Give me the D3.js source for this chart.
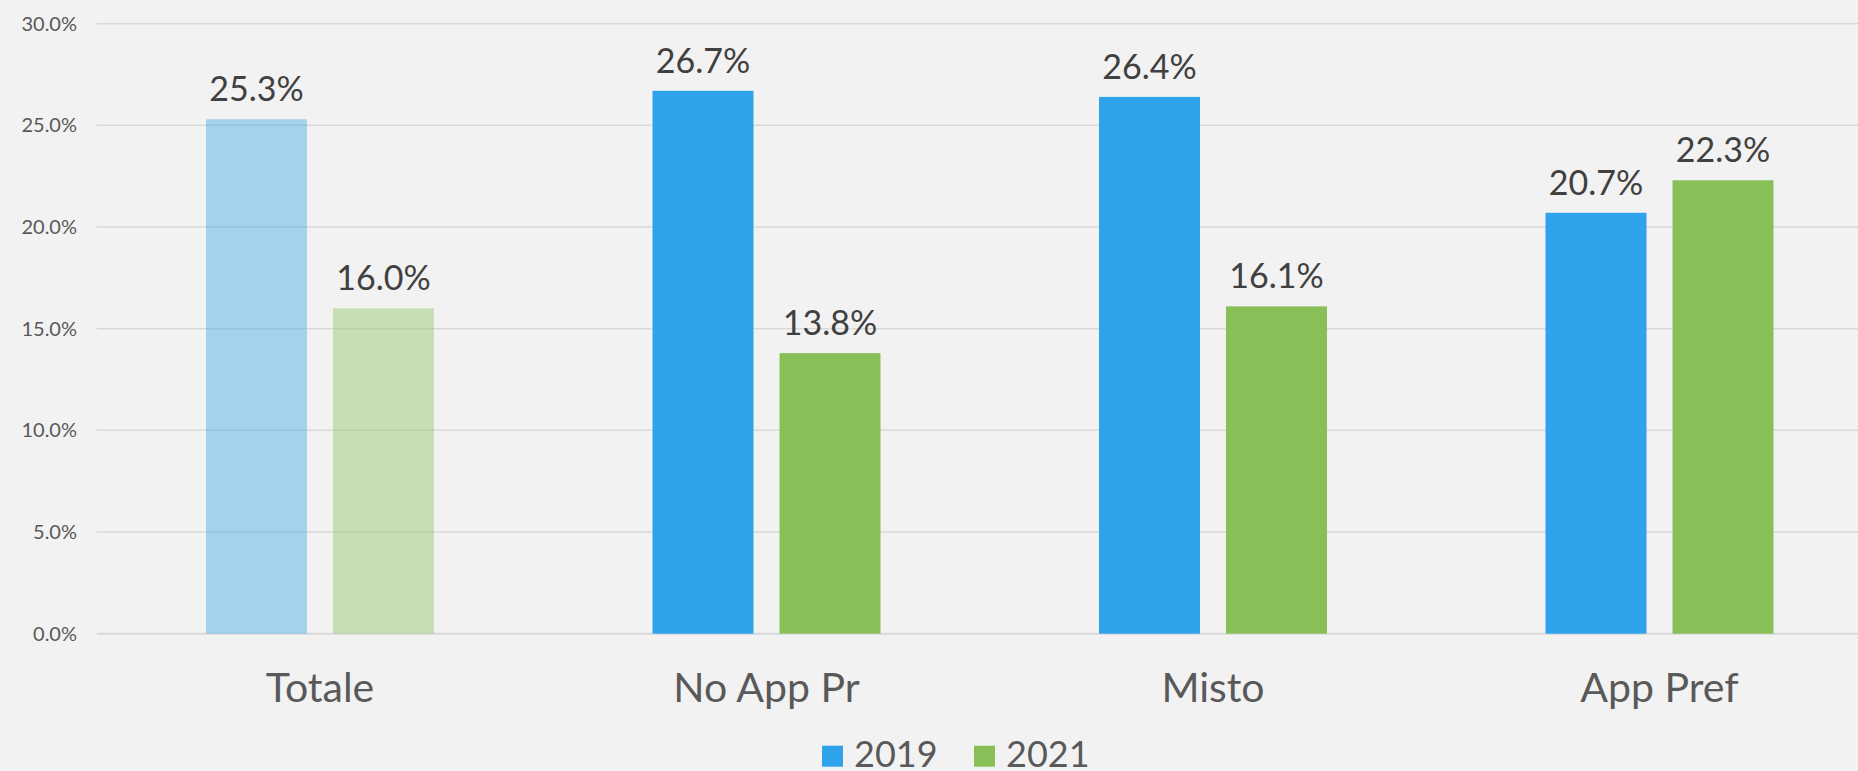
<!DOCTYPE html>
<meta charset="utf-8">
<script src="https://d3js.org/d3.v7.min.js"></script>
<style>
  body { margin: 0; background-color: #f2f2f2; }
  #my_dataviz { position: absolute; top: 0; left: 0; }
</style>
<div id="my_dataviz"></div>
<script>

// data
var categories = ["Totale", "No App Pr", "Misto", "App Pref"];
var series = ["2019", "2021"];
var values2019 = [25.3, 26.7, 26.4, 20.7];
var values2021 = [16.0, 13.8, 16.1, 22.3];
var yTicks = [0, 5, 10, 15, 20, 25, 30];

var width = 1858, height = 771;

var svg = d3.select("#my_dataviz")
  .append("svg")
    .attr("width", width)
    .attr("height", height)
    .style("font-family", "Lato, 'Open Sans', sans-serif");

svg.append("rect")
  .attr("width", width)
  .attr("height", height)
  .attr("fill", "#f2f2f2");

// X scale - the plot area runs a bit past the right edge of the picture
var x = d3.scaleBand()
  .domain(categories)
  .range([96.75, 1882.75])
  .padding(0);

var groupWidth = 228;
var xSub = d3.scaleBand()
  .domain(series)
  .range([0, groupWidth])
  .paddingInner(0.205);
var groupOffset = (x.bandwidth() - groupWidth) / 2;

// Y scale
var y = d3.scaleLinear()
  .domain([0, 30])
  .range([633.7, 23.7]);

// gridlines
svg.append("g")
  .selectAll("line")
  .data(yTicks)
  .enter()
  .append("line")
    .attr("x1", 96.75)
    .attr("x2", width)
    .attr("y1", function(d) { return y(d); })
    .attr("y2", function(d) { return y(d); })
    .attr("stroke", "#d9d9d9")
    .attr("stroke-width", function(d) { return d === 0 ? 2 : 1.5; });

// y tick labels
svg.append("g")
  .selectAll("text")
  .data(yTicks)
  .enter()
  .append("text")
    .attr("x", 77)
    .attr("y", function(d) { return y(d) + 7; })
    .attr("text-anchor", "end")
    .attr("fill", "#595959")
    .style("font-size", "20px")
    .text(function(d) { return d3.format(".1f")(d) + "%"; });

var color = d3.scaleOrdinal()
  .domain(series)
  .range(["#2ea3ec", "#88c057"]);

// one row per category
var rows = categories.map(function(c, i) {
  return { cat: c, vals: [
    { key: "2019", value: values2019[i] },
    { key: "2021", value: values2021[i] }
  ]};
});

var groups = svg.append("g")
  .selectAll("g")
  .data(rows)
  .enter()
  .append("g")
    .attr("transform", function(d) { return "translate(" + (x(d.cat) + groupOffset) + ",0)"; })
    .attr("opacity", function(d, i) { return i === 0 ? 0.4 : 1; });

groups.selectAll("rect")
  .data(function(d) { return d.vals; })
  .enter()
  .append("rect")
    .attr("x", function(d) { return xSub(d.key); })
    .attr("y", function(d) { return y(d.value); })
    .attr("width", xSub.bandwidth())
    .attr("height", function(d) { return y(0) - y(d.value); })
    .attr("fill", function(d) { return color(d.key); });

// data labels (full opacity)
svg.append("g")
  .selectAll("g")
  .data(rows)
  .enter()
  .append("g")
    .attr("transform", function(d) { return "translate(" + (x(d.cat) + groupOffset) + ",0)"; })
  .selectAll("text")
  .data(function(d) { return d.vals; })
  .enter()
  .append("text")
    .attr("x", function(d) { return xSub(d.key) + xSub.bandwidth() / 2; })
    .attr("y", function(d) { return y(d.value) - 18; })
    .attr("text-anchor", "middle")
    .attr("fill", "#404040")
    .style("font-size", "34px")
    .text(function(d) { return d3.format(".1f")(d.value) + "%"; });

// category labels
svg.append("g")
  .selectAll("text")
  .data(categories)
  .enter()
  .append("text")
    .attr("x", function(d) { return x(d) + x.bandwidth() / 2; })
    .attr("y", 701.7)
    .attr("text-anchor", "middle")
    .attr("fill", "#595959")
    .style("font-size", "41px")
    .text(function(d) { return d; });

// legend
var legendX = [822, 974];
var legend = svg.append("g")
  .selectAll("g")
  .data(series)
  .enter()
  .append("g")
    .attr("transform", function(d, i) { return "translate(" + legendX[i] + ",0)"; });
legend.append("rect")
  .attr("x", 0)
  .attr("y", 745.7)
  .attr("width", 21)
  .attr("height", 21)
  .attr("fill", function(d) { return color(d); });
legend.append("text")
  .attr("x", 32)
  .attr("y", 767)
  .attr("fill", "#595959")
  .style("font-size", "36px")
  .text(function(d) { return d; });

</script>
